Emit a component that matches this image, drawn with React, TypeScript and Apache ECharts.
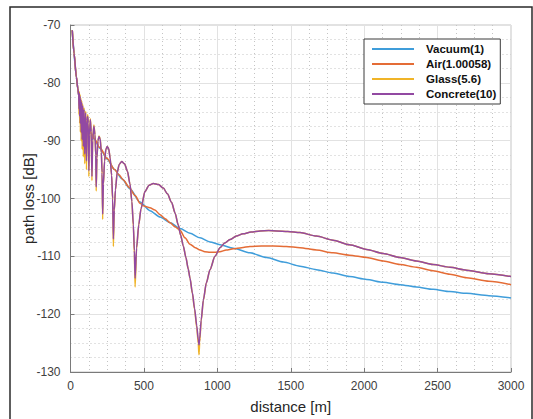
import React, { useEffect, useRef } from "react";
import * as echarts from "echarts";

const seriesNames = ["Vacuum(1)", "Air(1.00058)", "Glass(5.6)", "Concrete(10)"];
const seriesColors = ["#3f9dda", "#e46c36", "#f0b428", "#9249a2"];
const xTicks = [0, 500, 1000, 1500, 2000, 2500, 3000];
const yTicks = [-130, -120, -110, -100, -90, -80, -70];

const vacuumData: [number, number][] = [
  [12, -70.9], [18, -73], [24, -74.9], [32, -77.2], [40, -79], [50, -81], [60, -82.9], [70, -84.1],
  [83, -85.2], [100, -86.5], [117, -87.6], [135, -88.5], [160, -89.7], [200, -91.3], [250, -93.2],
  [300, -95], [350, -96.6], [405, -98.3], [473, -100.6], [541, -102.1], [610, -103.2], [680, -104.2],
  [746, -105.2], [814, -106], [882, -106.8], [950, -107.5], [1018, -108.0], [1109, -108.6],
  [1222, -109.4], [1336, -110.2], [1450, -111], [1563, -111.7], [1675, -112.3], [1788, -112.9],
  [1900, -113.5], [2017, -114], [2130, -114.5], [2244, -114.9], [2356, -115.3], [2469, -115.7],
  [2584, -116.1], [2698, -116.4], [2850, -116.8], [3000, -117.2],
];

const airData: [number, number][] = [
  [12, -70.9], [24, -74.9], [40, -79], [50, -81], [60, -82.9], [70, -84.0], [83, -85.1], [100, -86.4],
  [117, -87.5], [135, -88.5], [160, -89.6], [200, -91.2], [250, -93.1], [300, -95.0], [330, -95.9],
  [360, -96.8], [400, -98.1], [440, -99.5], [473, -100.8], [500, -101.3], [541, -101.6], [575, -102.0],
  [610, -102.8], [645, -103.5], [678, -104.2], [712, -104.9], [746, -105.5], [780, -106.8],
  [814, -107.9], [850, -108.5], [882, -108.9], [915, -109.2], [950, -109.3], [985, -109.3],
  [1018, -109.2], [1060, -108.9], [1109, -108.7], [1165, -108.5], [1222, -108.3], [1300, -108.2],
  [1381, -108.2], [1470, -108.3], [1563, -108.5], [1675, -108.9], [1788, -109.4], [1900, -109.8],
  [2017, -110.2], [2130, -110.8], [2244, -111.4], [2356, -111.9], [2469, -112.5], [2584, -113.1],
  [2698, -113.7], [2850, -114.3], [3000, -114.9],
];

const glassData: [number, number][] = [
  [12, -70.9], [24, -74.9], [40, -79], [50, -81], [56, -82.0],
  [58, -85.5], [60, -81.5], [62.5, -87], [65, -82.0], [67, -88.5], [70, -82.6], [73, -90], [76, -83.1],
  [79.5, -91.5], [83, -83.7], [87.5, -92.8], [92, -84.3], [97, -94], [103, -84.9], [109, -95],
  [113, -86.2], [117, -85.5], [121, -86.8], [125, -96.2], [129, -88.8], [135, -86.2], [141, -88.3],
  [146, -96.9], [151, -89.8], [159, -87.3], [167, -88.9], [172, -92.6], [175, -98.7], [180, -93],
  [187, -90], [194, -89.2], [202, -89.6], [210, -92], [215, -95.8], [219, -103.6], [224, -97.6],
  [232, -93.5], [241, -91.5], [250, -91], [260, -91.4], [270, -93], [280, -96], [287, -100.3],
  [292, -108.3], [298, -102.2], [306, -98.6], [318, -95.5], [332, -94.1], [349, -93.6], [368, -94],
  [388, -95.3], [405, -97.5], [418, -100.6], [428, -104.8], [435, -109.6], [440, -115.3],
  [450, -108.7], [465, -104.5], [480, -101.8], [507, -98.8], [535, -97.7], [564, -97.4], [600, -97.6],
  [632, -98.2], [660, -99.2], [689, -100.7], [712, -102.5], [734, -104.6], [750, -106.3],
  [768, -108.2], [786, -110.2], [802, -112.2], [814, -113.8], [830, -116.4], [845, -119.2],
  [860, -122.4], [870, -125.0], [875, -127], [880, -124.8], [890, -121.2], [905, -117.6],
  [925, -114.6], [950, -112.3], [984, -110], [1018, -108.5], [1050, -107.7], [1086, -107.1],
  [1130, -106.5], [1175, -106.1], [1230, -105.8], [1290, -105.6], [1350, -105.55], [1404, -105.6],
  [1480, -105.7], [1563, -105.9], [1675, -106.5], [1788, -107.2], [1900, -108], [2017, -108.8],
  [2130, -109.5], [2244, -110.2], [2356, -110.8], [2469, -111.4], [2584, -111.9], [2698, -112.4],
  [2850, -113], [3000, -113.5],
];

const concreteData: [number, number][] = [
  [12, -70.9], [24, -74.9], [40, -79], [50, -81], [56, -82.2],
  [58, -84.5], [60, -81.8], [62.5, -85.8], [65, -82.3], [67, -87], [70, -82.9], [73, -88.5], [76, -83.4],
  [79.5, -89.8], [83, -84], [87.5, -91], [92, -84.6], [97, -92.3], [103, -85.2], [109, -93.5],
  [113, -86.5], [117, -85.8], [121, -87], [125, -95.2], [129, -89], [135, -86.4], [141, -88.5],
  [146, -96.2], [151, -90], [159, -87.5], [167, -89], [172, -92.5], [175, -98], [180, -93],
  [187, -90], [194, -89.3], [202, -89.7], [210, -92], [215, -95.5], [219, -102.7], [224, -97.5],
  [232, -93.5], [241, -91.5], [250, -91], [260, -91.4], [270, -93], [280, -96], [287, -100],
  [292, -107], [298, -102], [306, -98.5], [318, -95.5], [332, -94.1], [349, -93.6], [368, -94],
  [388, -95.3], [405, -97.5], [418, -100.5], [428, -104.5], [435, -109], [440, -113.8],
  [450, -108.5], [465, -104.5], [480, -101.8], [507, -98.8], [535, -97.7], [564, -97.4], [600, -97.6],
  [632, -98.2], [660, -99.2], [689, -100.7], [712, -102.5], [734, -104.6], [750, -106.3],
  [768, -108.2], [786, -110.2], [802, -112.2], [814, -113.8], [830, -116.3], [845, -119],
  [860, -122], [870, -124.4], [875, -125.3], [880, -124.2], [890, -121], [905, -117.5],
  [925, -114.6], [950, -112.3], [984, -110], [1018, -108.5], [1050, -107.7], [1086, -107.1],
  [1130, -106.5], [1175, -106.1], [1230, -105.8], [1290, -105.6], [1350, -105.55], [1404, -105.6],
  [1480, -105.7], [1563, -105.9], [1675, -106.5], [1788, -107.2], [1900, -108], [2017, -108.8],
  [2130, -109.5], [2244, -110.2], [2356, -110.8], [2469, -111.4], [2584, -111.9], [2698, -112.4],
  [2850, -113], [3000, -113.5],
];

const allData = [vacuumData, airData, glassData, concreteData];

export default function App() {
  const ref = useRef<HTMLDivElement>(null);
  useEffect(() => {
    if (!ref.current) return;
    const chart = echarts.init(ref.current, null, { renderer: "svg" });
    const font = "'Liberation Sans', Arial, sans-serif";
    chart.setOption({
      animation: false,
      backgroundColor: "#ffffff",
      graphic: [
        {
          type: "rect",
          shape: { x: 10, y: 7, width: 522, height: 440 },
          style: { fill: "none", stroke: "#2a2a2a", lineWidth: 1.5 },
          z: 100,
        },
      ],
      grid: {
        left: 70.5,
        top: 25,
        right: 22,
        bottom: 46,
        show: true,
        borderColor: "#c4c4c4",
        borderWidth: 1,
        backgroundColor: "#ffffff",
      },
      legend: {
        orient: "vertical",
        left: 364,
        top: 39,
        data: seriesNames,
        icon: "rect",
        itemWidth: 42,
        itemHeight: 2,
        itemGap: 1,
        padding: [3, 4, 3, 8],
        backgroundColor: "#ffffff",
        borderColor: "#3a3a3a",
        borderWidth: 1,
        borderRadius: 0,
        textStyle: {
          fontFamily: font,
          fontWeight: "bold",
          fontSize: 11.5,
          color: "#111111",
          lineHeight: 14,
          padding: [0, 0, 0, 7],
        },
      },
      xAxis: {
        type: "value",
        min: xTicks[0],
        max: xTicks[xTicks.length - 1],
        interval: 500,
        name: "distance [m]",
        nameLocation: "middle",
        nameGap: 27,
        nameMoveOverlap: false,
        nameTextStyle: { fontFamily: font, fontSize: 15, color: "#262626" },
        axisLine: { show: true, onZero: false, lineStyle: { color: "#7a7a7a", width: 1 } },
        axisTick: { show: true, inside: true, length: 4, lineStyle: { color: "#7a7a7a" } },
        axisLabel: {
          fontFamily: font,
          fontSize: 12,
          color: "#404040",
          margin: 8,
          formatter: (v: number) => String(v),
        },
        splitLine: { show: true, lineStyle: { color: "#e2e2e2", width: 1 } },
        minorTick: { show: false, splitNumber: 4 },
        minorSplitLine: { show: true, lineStyle: { color: "#c4c4c4", width: 1, type: [1, 3] } },
      },
      yAxis: {
        type: "value",
        min: yTicks[0],
        max: yTicks[yTicks.length - 1],
        interval: 10,
        name: "path loss [dB]",
        nameLocation: "middle",
        nameGap: 35,
        nameMoveOverlap: false,
        nameTextStyle: { fontFamily: font, fontSize: 15, color: "#262626" },
        axisLine: { show: true, onZero: false, lineStyle: { color: "#7a7a7a", width: 1 } },
        axisTick: { show: true, inside: true, length: 4, lineStyle: { color: "#7a7a7a" } },
        axisLabel: {
          fontFamily: font,
          fontSize: 12,
          color: "#404040",
          margin: 10,
          formatter: (v: number) => String(v),
        },
        splitLine: { show: true, lineStyle: { color: "#e2e2e2", width: 1 } },
        minorTick: { show: false, splitNumber: 4 },
        minorSplitLine: { show: true, lineStyle: { color: "#c4c4c4", width: 1, type: [1, 3] } },
      },
      series: seriesNames.map((name, i) => ({
        name,
        type: "line",
        data: allData[i],
        showSymbol: false,
        symbol: "none",
        smooth: 0.25,
        smoothMonotone: "x",
        color: seriesColors[i],
        lineStyle: { color: seriesColors[i], width: 1.5 },
        clip: true,
        z: 2 + i,
      })),
    });
    return () => chart.dispose();
  }, []);
  return (
    <div
      ref={ref}
      style={{ position: "fixed", left: 0, top: 0, width: 533, height: 419, background: "#fff" }}
    />
  );
}
